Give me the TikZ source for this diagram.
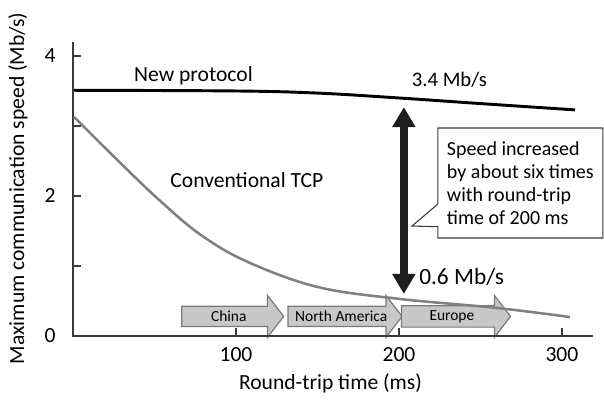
\documentclass[tikz,border=0pt]{standalone}
\usepackage{fontspec}
\setmainfont{Carlito}
\usetikzlibrary{arrows.meta,shapes.arrows,shapes.callouts}
\definecolor{regfill}{HTML}{C8C8C8}
\definecolor{regline}{HTML}{7A7A7A}
\definecolor{tcpgray}{HTML}{808080}
\definecolor{axisgray}{HTML}{3A3A3A}
\definecolor{bigblack}{HTML}{1E1E1E}
\tikzset{
  lbl/.style={font=\fontsize{16.2}{17.25}\selectfont, inner sep=0pt},
  axis/.style={draw=axisgray, line width=1.1pt},
  region/.style={single arrow, draw=regline, fill=regfill, line width=0.9pt,
    minimum width=31.5pt, single arrow head extend=4.9pt, single arrow tip angle=105,
    inner sep=0pt, anchor=tail, font=\fontsize{11.6}{14}\selectfont},
  bighead/.tip={Triangle[width=16.5pt,length=15pt]}
}
\begin{document}
\begin{tikzpicture}[x=1.2225pt,y=52.5pt]
\useasboundingbox (-44.8,-0.957) rectangle (325.8,4.8);
\node[region, minimum height=76.5pt] (china) at (66.3,0.279) {China};
\node[region, minimum height=85.5pt] (namerica) at (131.6,0.279) {North America};
\node[region, minimum height=81.75pt] (europe) at (201.2,0.279) {Europe};
\coordinate (o) at (0,0);
\coordinate (xend) at (319,0);
\coordinate (yend) at (0,4.2);
\draw[axis] (yend) -- (o) -- (xend);
\foreach \y in {1,...,4} \draw[axis] (0,\y) -- ++(5,0);
\foreach \y in {0,2,4} \node[lbl] (ylab\y) at (-14,\y) {\y};
\foreach \x in {100,200,300} {
  \draw[axis] (\x,0) -- ++(0,0.114);
  \node[lbl] (xlab\x) at (\x,-0.264) {\x};
}
\node[lbl] (xtitle) at (158,-0.67) {Round-trip time (ms)};
\node[lbl, rotate=90] (ytitle) at (-33.7,2.11) {Maximum communication speed (Mb/s)};
\draw[line width=2.2pt, black] plot[smooth, tension=0.6] coordinates
  {(0.6,3.51) (100,3.50) (150,3.47) (200,3.40) (250,3.32) (308,3.23)};
\draw[line width=1.9pt, tcpgray] plot[smooth, tension=0.6] coordinates
  {(0.6,3.13) (30,2.45) (53,1.94) (78,1.45) (107,1.06) (150,0.70) (200,0.53) (260,0.40) (305,0.27)};
\node[lbl, anchor=base] (newproto) at (73.9,3.63) {New protocol};
\node[lbl, anchor=base, font=\fontsize{15.5}{17}\selectfont] (highval) at (231,3.557) {3.4 Mb/s};
\node[lbl, anchor=base] (conv) at (106.7,2.114) {Conventional TCP};
\node[lbl, anchor=base west, font=\fontsize{17.5}{20}\selectfont] (lowval) at (212.3,0.729) {0.6 Mb/s};
\coordinate (gaptop) at (203,3.27);
\coordinate (gapbot) at (203,0.6);
\draw[line width=6pt, bigblack, bighead-bighead] (gapbot) -- (gaptop);
\coordinate (tip) at (208,1.57);
\node[lbl, rectangle callout, draw=axisgray, fill=white, line width=0.8pt,
  font=\fontsize{15}{17.25}\selectfont, align=left,
  minimum width=123.75pt, minimum height=82.5pt,
  callout absolute pointer={(tip)}, callout pointer width=17pt] (note) at (274.5,2.185)
  {Speed increased\\by about six times\\with round-trip\\time of 200 ms};
\end{tikzpicture}
\end{document}
